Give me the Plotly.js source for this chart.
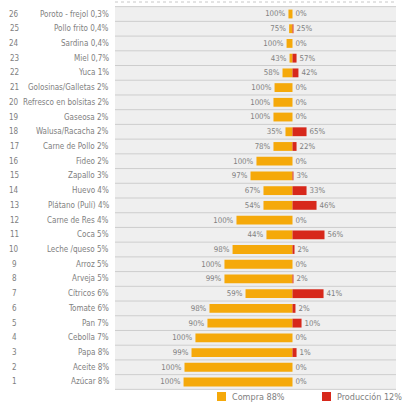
<!DOCTYPE html>
<html>
<head>
<meta charset="utf-8">
<script src="https://cdn.plot.ly/plotly-3.0.1.min.js"></script>
<style>html,body{margin:0;padding:0;background:#fff;}#chart{width:413px;height:403px;}</style>
</head>
<body>
<div id="chart"></div>
<script>
// Row numbers (1 = bottom)
const rowNums = [1,2,3,4,5,6,7,8,9,10,11,12,13,14,15,16,17,18,19,20,21,22,23,24,25,26];
const items = [
  "Azúcar 8%","Aceite 8%","Papa 8%","Cebolla 7%","Pan 7%","Tomate 6%","Cítricos 6%",
  "Arveja 5%","Arroz 5%","Leche /queso 5%","Coca 5%","Carne de Res 4%","Plátano (Pulí) 4%",
  "Huevo 4%","Zapallo 3%","Fideo 2%","Carne de Pollo 2%","Walusa/Racacha 2%","Gaseosa 2%",
  "Refresco en bolsitas 2%","Golosinas/Galletas 2%","Yuca 1%","Miel 0,7%","Sardina 0,4%",
  "Pollo frito 0,4%","Poroto - frejol 0,3%"
];
// Bar lengths (share of consumption, % points)
const compraVal = [8.07,8.0,7.48,7.19,6.30,6.15,3.48,5.04,5.04,4.44,1.93,4.15,2.15,2.15,3.11,2.67,1.41,0.52,1.41,1.41,1.33,0.74,0.22,0.44,0.25,0.30];
const prodVal   = [0,0,0.30,0,0.67,0.22,2.30,0.07,0,0.15,2.37,0,1.78,1.04,0.07,0,0.30,1.04,0,0,0,0.44,0.30,0,0.07,0];
// Percent labels
const compraPct = ["100%","100%","99%","100%","90%","98%","59%","99%","100%","98%","44%","100%","54%","67%","97%","100%","78%","35%","100%","100%","100%","58%","43%","100%","75%","100%"];
const prodPct   = ["0%","0%","1%","0%","10%","2%","41%","2%","0%","2%","56%","0%","46%","33%","3%","0%","22%","65%","0%","0%","0%","42%","57%","0%","25%","0%"];
const legendNames = ["Compra 88%","Producción 12%"];

const YEL = "#f5a90a", RED = "#d7281b", TXT = "#808080";
const FONT = "'Liberation Sans Narrow','DejaVu Sans Condensed','Arial Narrow',sans-serif";

const traces = [
  {type:"bar", orientation:"h", name:legendNames[0], y:rowNums, x:compraVal.map(v=>-v),
   base:0, width:0.6, marker:{color:YEL}, text:compraPct, textposition:"outside",
   textfont:{size:8,color:TXT,family:FONT}, cliponaxis:false, hoverinfo:"skip"},
  {type:"bar", orientation:"h", name:legendNames[1], y:rowNums, x:prodVal,
   base:0, width:0.6, marker:{color:RED}, text:prodPct, textposition:"outside",
   textfont:{size:8,color:TXT,family:FONT}, cliponaxis:false, hoverinfo:"skip"}
];

const shapes = [];
const annotations = [];
const xL = 115/413, xR = 396/413;
rowNums.forEach((r,i)=>{
  shapes.push({type:"rect", xref:"paper", yref:"y", x0:xL, x1:xR, y0:r-0.5, y1:r+0.5,
    fillcolor:"#efefef", line:{width:0}, layer:"below"});
  shapes.push({type:"line", xref:"paper", yref:"y", x0:xL, x1:xR, y0:r-0.5, y1:r-0.5,
    line:{color:"#cdcdcd", width:1}, layer:"below"});
  annotations.push({xref:"paper", yref:"y", x:14/413, y:r, text:String(r), showarrow:false,
    xanchor:"center", font:{size:8,color:TXT,family:FONT}});
  annotations.push({xref:"paper", yref:"y", x:111/413, y:r, text:items[i], showarrow:false,
    xanchor:"right", font:{size:8,color:TXT,family:FONT}});
});
shapes.push({type:"line", xref:"paper", yref:"y", x0:xL, x1:xR, y0:26.5, y1:26.5,
  line:{color:"#cdcdcd", width:1}, layer:"below"});
// faint dotted rule at the very top
shapes.push({type:"line", xref:"paper", yref:"paper", x0:xL, x1:xR, y0:1-2/403, y1:1-2/403,
  line:{color:"#c8c8c8", width:1, dash:"dot"}, layer:"below"});

// Hand-placed legend (bottom)
const legColors = [YEL, RED];
const legX = [217, 322];
legendNames.forEach((nm,k)=>{
  shapes.push({type:"rect", xref:"paper", yref:"paper",
    x0:legX[k]/413, x1:(legX[k]+9)/413, y0:2/403, y1:11/403,
    fillcolor:legColors[k], line:{width:0}});
  annotations.push({xref:"paper", yref:"paper", x:(legX[k]+13)/413, y:6.5/403, text:nm,
    showarrow:false, xanchor:"left", yanchor:"middle", font:{size:9,color:TXT,family:FONT}});
});

const layout = {
  width:413, height:403, margin:{l:0,r:0,t:0,b:0},
  paper_bgcolor:"#ffffff", plot_bgcolor:"#ffffff",
  barmode:"overlay", showlegend:false,
  xaxis:{range:[-292.5/13.5, 120.5/13.5], visible:false, fixedrange:true},
  yaxis:{range:[-0.427, 26.951], visible:false, fixedrange:true},
  shapes:shapes, annotations:annotations
};
Plotly.newPlot("chart", traces, layout, {displayModeBar:false, staticPlot:true});
</script>
</body>
</html>
